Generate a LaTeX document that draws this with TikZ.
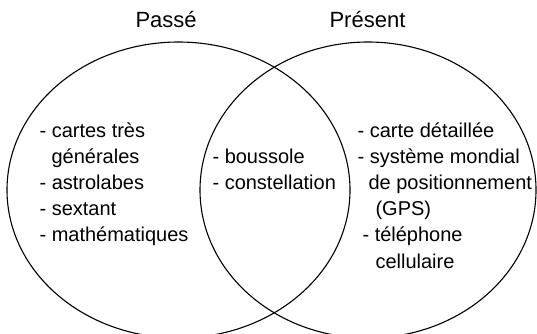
\documentclass[tikz,border=0pt]{standalone}
\usepackage{fontspec}
\setmainfont{Liberation Sans}

\begin{document}
\begin{tikzpicture}[x=1pt,y=-1pt,line width=1.1pt,
    item/.style={anchor=base west,inner sep=0pt,font=\fontsize{20}{24}\selectfont},
    heading/.style={anchor=base west,inner sep=0pt,font=\fontsize{22}{26}\selectfont}]

\useasboundingbox (0,0) rectangle (537,333);
\clip (0,0) rectangle (537,333);

% Sets
\draw (178.5,190) ellipse [x radius=171.5, y radius=148];
\draw (368,190) ellipse [x radius=168, y radius=148];

% Headings
\node[heading] (past) at (135,27) {Passé};
\node[heading] (present) at (329,27) {Présent};

% Past only
\node[item] (p1) at (39,137) {- cartes très};
\node[item] (p1b) at (51,163.2) {générales};
\node[item] (p2) at (39,189.4) {- astrolabes};
\node[item] (p3) at (39,215.6) {- sextant};
\node[item] (p4) at (39,241.8) {- mathématiques};

% Both
\node[item] (b1) at (212,163.2) {- boussole};
\node[item] (b2) at (212,189.4) {- constellation};

% Present only
\node[item] (n1) at (357,137) {- carte détaillée};
\node[item] (n2) at (357,163.2) {- système mondial};
\node[item] (n2b) at (368,189.4) {de positionnement};
\node[item] (n2c) at (375,215.6) {(GPS)};
\node[item] (n3) at (362,241.8) {- téléphone};
\node[item] (n3b) at (375,268) {cellulaire};

\end{tikzpicture}
\end{document}
